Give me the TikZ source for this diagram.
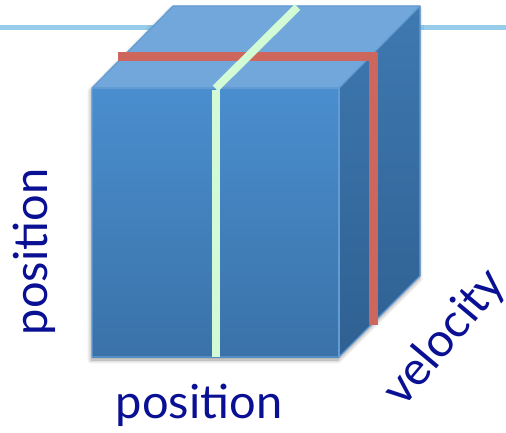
\documentclass[tikz,border=0pt]{standalone}
\usepackage{fontspec}
\setmainfont{Lato}
\usetikzlibrary{shadows.blur}

\definecolor{rulecol}{RGB}{150,205,235}
\definecolor{frontTop}{RGB}{74,142,207}
\definecolor{frontBot}{RGB}{58,114,168}
\definecolor{sideTop}{RGB}{62,121,176}
\definecolor{sideBot}{RGB}{47,96,146}
\definecolor{topFace}{RGB}{113,167,218}
\definecolor{edgeCol}{RGB}{98,156,212}
\definecolor{redBar}{RGB}{205,102,92}
\definecolor{greenBar}{RGB}{210,250,212}
\definecolor{labelCol}{RGB}{10,16,148}

\tikzset{
  edge/.style={draw=edgeCol, line width=1.2pt, line join=round},
  bar/.style={line width=#1, line cap=butt, line join=miter},
  axislabel/.style={text=labelCol, font=\fontsize{47}{50}\selectfont, inner sep=0pt},
}

\begin{document}
\begin{tikzpicture}[x=1pt, y=-1pt]
\useasboundingbox (0,0) rectangle (506,433);

% thin rule running behind the cube
\draw[rulecol, line width=5pt] (0,27.5) -- (506,27.5);

% cube corners
\coordinate (FTL) at (92,88);
\coordinate (FTR) at (339,88);
\coordinate (FBL) at (92,357);
\coordinate (FBR) at (339,357);
\coordinate (BTL) at (173,6);
\coordinate (BTR) at (420,6);
\coordinate (BBR) at (420,276);

% soft shadow of the whole cube
\fill[frontBot, blur shadow={shadow xshift=-1pt, shadow yshift=-3pt,
      shadow blur radius=4pt, shadow blur steps=10, shadow opacity=40}]
  (FBL) -- (FTL) -- (BTL) -- (BTR) -- (BBR) -- (FBR) -- cycle;

% faces
\fill[top color=frontTop, bottom color=frontBot] (FTL) rectangle (FBR);
\fill[top color=sideTop, bottom color=sideBot] (FTR) -- (BTR) -- (BBR) -- (FBR) -- cycle;
\fill[topFace] (FTL) -- (BTL) -- (BTR) -- (FTR) -- cycle;

% edges
\draw[edge] (FBL) -- (FTL) -- (BTL) -- (BTR) -- (BBR) -- (FBR) -- cycle;
\draw[edge] (FTL) -- (FTR) -- (FBR);
\draw[edge] (FTR) -- (BTR);

% red slice: across the top and down the side
\coordinate (r1) at (118,56.5);
\coordinate (r2) at (373,56.5);
\coordinate (r3) at (373,325);
\draw[redBar, bar=9pt] (r1) -- (r2) -- (r3);

% green slice: over the top and down the front
\coordinate (g1) at (297.5,7);
\coordinate (g2) at (215.5,88.5);
\coordinate (g3) at (216,90);
\coordinate (g4) at (216,357);
\draw[greenBar, bar=8pt] (g1) -- (g2);
\draw[greenBar, bar=8pt] (g3) -- (g4);

% axis labels
\node[axislabel, anchor=base] (xlab) at (199,418) {position};
\node[axislabel, anchor=base, rotate=90] (ylab) at (47,252) {position};
\node[axislabel, anchor=center, rotate=50] (zlab) at (445,338) {velocity};
\end{tikzpicture}
\end{document}
